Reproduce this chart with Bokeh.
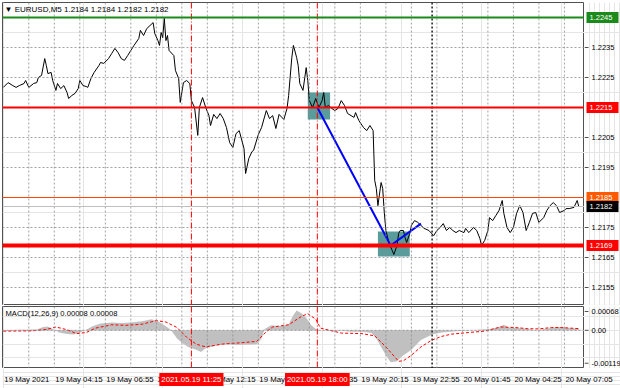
from bokeh.plotting import figure
from bokeh.models import Range1d, Span, Label
from bokeh.layouts import column, row
from bokeh.embed import file_html
from bokeh.resources import INLINE
from bokeh.core.properties import value

# ---------------- data ----------------
# bar index (5-minute bars from the left edge) and close price
bar_index = [
    0, 3, 6, 8, 10, 13, 14, 16, 19, 21,
    22, 24, 26, 27, 28, 30, 31, 33, 34, 36,
    38, 40, 41, 43, 45, 47, 48, 50, 52, 53,
    55, 57, 60, 61, 63, 66, 68, 70, 72, 74,
    76, 78, 80, 82, 85, 86, 88, 90, 92, 94,
    95, 97, 98, 99, 100, 101, 102, 103, 104, 107,
    108, 110, 111, 113, 115, 117, 118, 120, 122, 123,
    125, 127, 129, 130, 132, 134, 136, 138, 140, 142,
    144, 146, 148, 151, 152, 154, 156, 157, 160, 162,
    165, 167, 169, 171, 173, 176, 178, 179, 181, 182,
    184, 185, 186, 188, 190, 191, 192, 194, 196, 198,
    200, 201, 202, 204, 206, 208, 210, 212, 214, 216,
    220, 221, 223, 226, 228, 230, 232, 233, 234, 235,
    237, 238, 239, 240, 242, 244, 245, 247, 248, 249,
    251, 252, 253, 255, 256, 258, 260, 262, 264, 267,
    270, 272, 274, 276, 278, 280, 282, 284, 286, 289,
    290, 292, 295, 297, 299, 300, 302, 304, 305, 307,
    309, 311, 313, 314, 316, 318, 320, 322, 324, 326,
    328, 330, 332, 334, 336, 339, 341, 343, 345, 347,
    349, 352, 353, 355, 358, 360, 361,
]
close_price = [
    1.22217, 1.22233, 1.22223, 1.22217, 1.22223, 1.2223, 1.2224, 1.22217, 1.2223, 1.22233,
    1.2225, 1.22257, 1.22313, 1.2229, 1.22263, 1.22267, 1.2224, 1.22207, 1.2223, 1.22213,
    1.22223, 1.222, 1.2218, 1.2219, 1.22197, 1.22213, 1.2224, 1.22223, 1.2222, 1.22217,
    1.22247, 1.22267, 1.2229, 1.223, 1.22297, 1.22313, 1.2233, 1.22347, 1.22333, 1.22313,
    1.22307, 1.22323, 1.2234, 1.22357, 1.2238, 1.22407, 1.2239, 1.22413, 1.22423, 1.22433,
    1.22397, 1.22373, 1.22357, 1.224, 1.22383, 1.22447, 1.22373, 1.2239, 1.2234, 1.22323,
    1.22273, 1.22247, 1.22167, 1.22233, 1.2224, 1.2223, 1.22173, 1.2215, 1.22057, 1.2215,
    1.22183, 1.2215, 1.22123, 1.2209, 1.22127, 1.22113, 1.2213, 1.22113, 1.22083, 1.22033,
    1.22017, 1.22063, 1.22073, 1.22013, 1.2193, 1.2198, 1.22003, 1.22007, 1.2206, 1.22083,
    1.2214, 1.22113, 1.22123, 1.2208, 1.22127, 1.2211, 1.22147, 1.2219, 1.22317, 1.22357,
    1.22317, 1.2229, 1.2223, 1.22207, 1.22283, 1.2224, 1.22173, 1.2215, 1.2218, 1.2215,
    1.22173, 1.222, 1.2215, 1.22157, 1.22147, 1.2214, 1.22147, 1.22173, 1.22157, 1.2213,
    1.22117, 1.22133, 1.22107, 1.22083, 1.22073, 1.2209, 1.22073, 1.21907, 1.2188, 1.21823,
    1.219, 1.2188, 1.218, 1.2174, 1.21697, 1.21673, 1.2166, 1.2169, 1.2173, 1.2174,
    1.2174, 1.21717, 1.217, 1.2173, 1.21757, 1.21773, 1.21767, 1.21757, 1.21747, 1.2174,
    1.21723, 1.2174, 1.2175, 1.21763, 1.2174, 1.2175, 1.2174, 1.21733, 1.2174, 1.21733,
    1.21747, 1.21733, 1.2175, 1.2174, 1.21713, 1.2169, 1.21707, 1.2174, 1.21783, 1.21773,
    1.2179, 1.21807, 1.2184, 1.21797, 1.2175, 1.21733, 1.2175, 1.21797, 1.21823, 1.218,
    1.2174, 1.21767, 1.21797, 1.218, 1.21767, 1.21783, 1.21807, 1.21823, 1.21833, 1.21823,
    1.218, 1.21807, 1.21813, 1.21813, 1.21817, 1.2184, 1.2182,
]

# MACD(12,26,9) histogram and signal line
hist_bar = [0, 11, 21, 25, 28, 31, 35, 40, 44, 48,
            52, 56, 61, 68, 74, 80, 87, 93, 97, 102,
            105, 109, 112, 116, 121, 124, 127, 134, 140, 146,
            152, 159, 162, 164, 168, 174, 179, 182, 184, 187,
            190, 193, 196, 199, 206, 212, 218, 225, 231, 234,
            237, 240, 243, 247, 250, 256, 262, 269, 275, 284,
            294, 300, 306, 311, 314, 317, 322, 328, 334, 341,
            345, 350, 354, 361]
hist_val = [0, 0.00002, 0.00003, 0.00012, 0.00014, 0.00005, -0.00008, -0.00013, -0.00015, -0.00008,
            0.00002, 0.00015, 0.00025, 0.00028, 0.00026, 0.00028, 0.00033, 0.0004, 0.00033, 0.00015,
            0.00002, -0.0003, -0.00045, -0.0006, -0.0007, -0.00078, -0.00065, -0.00055, -0.0005, -0.00053,
            -0.00052, -0.0005, -0.0003, 0.00005, 0.00018, 0.00015, 0.00022, 0.00055, 0.00072, 0.00062,
            0.00045, 0.0002, 0.00005, 0.0, -0.00003, -0.00002, -0.00005, -0.00005, -0.0001, -0.0003,
            -0.0006, -0.0009, -0.00115, -0.00112, -0.00095, -0.0007, -0.00035, -0.00015, -0.00008, -0.00003,
            0.0, 0.00003, 0.00005, 0.00012, 0.0002, 0.0001, 0.00008, 0.00006, 0.0, 0.00006,
            0.0001, 0.00012, 0.00008, 0.00006]
sig_bar = [0, 18, 27, 33, 40, 46, 52, 58, 68, 77,
           87, 96, 102, 109, 115, 121, 127, 137, 149, 159,
           165, 169, 179, 187, 191, 196, 199, 212, 225, 233,
           240, 248, 251, 256, 262, 269, 275, 281, 292, 302,
           312, 321, 329, 336, 344, 350, 361]
sig_val = [-0.00003, -0.00002, 0.00003, 0.00012, 0.00002, -0.00012, -0.00008, 0.00008, 0.0002, 0.00018,
           0.00022, 0.00035, 0.0003, 0.0001, -0.00025, -0.0005, -0.0006, -0.0005, -0.00045, -0.0004,
           -0.00005, 0.00012, 0.0002, 0.0005, 0.0006, 0.0004, 0.00008, -0.0001, -0.00012, -0.0002,
           -0.0006, -0.00112, -0.0011, -0.0009, -0.0006, -0.00035, -0.00022, -0.00014, -0.00008, -0.00003,
           0.00012, 0.0001, 0.00006, 0.00005, 0.0001, 0.0001, 0.00006]

# time axis
time_tick_bars = [0, 32, 64, 96, 128, 160, 192, 224, 256, 288, 320, 352]
time_tick_labels = ["19 May 2021", "19 May 04:15", "19 May 06:55", "19 May 09:35",
                    "19 May 12:15", "19 May 14:55", "19 May 17:35", "19 May 20:15",
                    "19 May 22:55", "20 May 01:45", "20 May 04:25", "20 May 07:05"]
grid_bars = list(range(16, 365, 16))

# price scale
price_grid = [1.2155, 1.2165, 1.2175, 1.2185, 1.2195, 1.2205, 1.2215, 1.2225, 1.2235, 1.2245]
price_axis_ticks = [1.2155, 1.2165, 1.2175, 1.2195, 1.2205, 1.2225, 1.2235]
price_axis_text = ["1.2155", "1.2165", "1.2175", "1.2195", "1.2205", "1.2225", "1.2235"]

# levels and tags
level_prices = [1.2245, 1.2215, 1.2185, 1.2182, 1.2169]
level_colors = ["#1a8a1a", "#ff0000", "#ff4500", "#c0c0c0", "#ff0000"]
level_widths = [2, 2, 1, 1, 4]
tag_texts = ["1.2245", "1.2215", "1.2185", "1.2182", "1.2169"]
tag_colors = ["#1a8a1a", "#ff0000", "#ff5a00", "#000000", "#ff0000"]

# events
event_bars = [118, 197]
event_labels = ["2021.05.19 11:25", "2021.05.19 18:00"]
day_sep_bars = [269]

# trade path and zones
path_bars = [197, 243, 262]
path_prices = [1.2215, 1.2169, 1.21763]
zone_left = [191, 235]
zone_right = [205, 255]
zone_bottom = [1.2211, 1.21653]
zone_top = [1.2220, 1.21737]

# MACD scale
macd_ticks = [-0.00119, 0.0, 0.00068]
macd_tick_text = ["-0.00119", "0.00", "0.00068"]

# ---------------- layout ----------------
FONT = "Liberation Sans"
FS = "7.5px"
FS_T = "7.8px"
W = 620
LB, RB = 2, 36
FW = W - LB - RB
X0, X1 = -0.5, 364.6
PX = (X1 - X0) / FW
Y0, Y1 = 1.2149, 1.2250
H1 = 305
FH1 = H1 - 2
M0, M1 = -0.00138, 0.00086
H2 = 63
FH2 = H2 - 1
H3 = 20
FRAME = "#505050"
GRID = "#8c8c8c"


def base_fig(width, height, xr, yr, left, top, outline):
    return figure(width=width, height=height, x_range=xr, y_range=yr,
                  output_backend="svg", toolbar_location=None,
                  x_axis_location=None, y_axis_location=None,
                  min_border_left=left, min_border_right=0,
                  min_border_top=top, min_border_bottom=0,
                  background_fill_color="white", border_fill_color="white",
                  outline_line_color=outline)


def vgrid(p):
    for b in grid_bars:
        p.add_layout(Span(location=b, dimension="height", line_color=GRID,
                          line_dash="2 2", line_width=1, line_alpha=0.8))


def hgrid(p, levels, color=GRID, dash="2 2"):
    for v in levels:
        p.add_layout(Span(location=v, dimension="width", line_color=color,
                          line_dash=dash, line_width=1, line_alpha=0.8))


def vlines(p):
    for b in event_bars:
        p.add_layout(Span(location=b, dimension="height", line_color="#ff0000",
                          line_dash="6 2 1 2", line_width=1))
    for b in day_sep_bars:
        p.add_layout(Span(location=b, dimension="height", line_color="#202020",
                          line_dash="2 2", line_width=1.5))


def scale_panel(height, yr, top, ticks, texts):
    s = base_fig(RB, height, Range1d(0, RB), yr, 0, top, None)
    s.text(x=[7] * len(ticks), y=ticks, text=texts, text_font=value(FONT),
           text_font_size=FS, text_color="black", text_align="left",
           text_baseline="middle")
    s.segment(x0=[0] * len(ticks), x1=[4] * len(ticks), y0=ticks, y1=ticks,
              line_color=FRAME, line_width=1)
    return s


# main price panel
f1 = base_fig(W - RB, H1, Range1d(X0, X1), Range1d(Y0, Y1), LB, 2, FRAME)
f1.quad(left=zone_left, right=zone_right, bottom=zone_bottom, top=zone_top,
        fill_color="#5a9c9c", line_color=None)
f1.line(bar_index, close_price, line_color="black", line_width=1)
vgrid(f1)
hgrid(f1, price_grid)
vlines(f1)
for pr, c, w in zip(level_prices, level_colors, level_widths):
    f1.add_layout(Span(location=pr, dimension="width", line_color=c, line_width=w))
f1.line(path_bars, path_prices, line_color="#0000ff", line_width=2)
f1.add_layout(Label(x=X0 + 2 * PX, y=Y1 - 6.5 * (Y1 - Y0) / FH1,
                    text="\u25bc EURUSD,M5  1.2184 1.2184 1.2182 1.2182",
                    text_font=FONT, text_font_size="8px", text_color="black",
                    text_align="left", text_baseline="middle"))

s1 = scale_panel(H1, f1.y_range, 2, price_axis_ticks, price_axis_text)
half = 5.5 * (Y1 - Y0) / FH1
nl = len(level_prices)
s1.quad(left=[2] * nl, right=[34] * nl,
        bottom=[p - half for p in level_prices], top=[p + half for p in level_prices],
        fill_color=tag_colors, line_color=None)
s1.text(x=[5] * nl, y=level_prices, text=tag_texts, text_font=value(FONT),
        text_font_size=FS, text_color="white", text_align="left", text_baseline="middle")

# MACD panel
f2 = base_fig(W - RB, H2, f1.x_range, Range1d(M0, M1), LB, 1, FRAME)
f2.varea(x=hist_bar, y1=[0.0] * len(hist_bar), y2=hist_val, fill_color="#c0c0c0")
f2.line(sig_bar, sig_val, line_color="#ff0000", line_dash="3 2", line_width=1)
vgrid(f2)
hgrid(f2, [0.0])
vlines(f2)
f2.add_layout(Label(x=X0 + 3 * PX, y=M1 - 7 * (M1 - M0) / FH2,
                    text="MACD(12,26,9) 0.00008 0.00008",
                    text_font=FONT, text_font_size="7.6px", text_color="black",
                    text_align="left", text_baseline="middle"))
s2 = scale_panel(H2, f2.y_range, 1, macd_ticks, macd_tick_text)

# time label strip
X3 = X0 + (W - LB) * PX
f3 = base_fig(W, H3, Range1d(X0, X3), Range1d(0, 1), LB, 0, None)
f3.text(x=time_tick_bars, y=[0.45] * len(time_tick_bars), text=time_tick_labels,
        text_font=value(FONT), text_font_size=FS_T, text_color="black",
        text_align="left", text_baseline="middle", x_offset=1)
for b, t in zip(event_bars, event_labels):
    f3.add_layout(Label(x=b, y=0.45, text=t, text_font=FONT, text_font_size=FS_T,
                        text_color="white", text_align="center", text_baseline="middle",
                        background_fill_color="#ff0000", padding=2))

layout = column(row(f1, s1, spacing=0), row(f2, s2, spacing=0), f3, spacing=0)
open("out.html", "w").write(file_html(layout, INLINE))
